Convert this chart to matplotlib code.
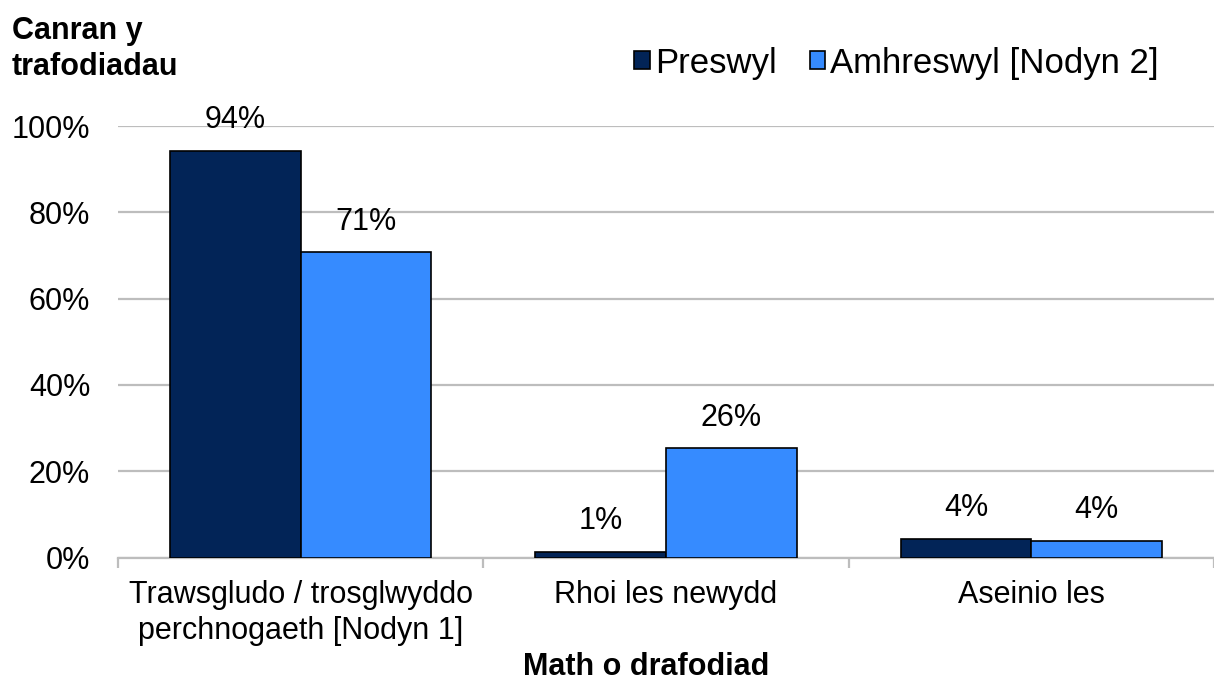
import matplotlib
matplotlib.use('Agg')
import matplotlib.pyplot as plt
import numpy as np

plt.rcParams['font.family'] = ['Liberation Sans', 'DejaVu Sans']

categories = ['Trawsgludo / trosglwyddo\nperchnogaeth [Nodyn 1]', 'Rhoi les newydd', 'Aseinio les']
series_names = ['Preswyl', 'Amhreswyl [Nodyn 2]']
preswyl = [94.3, 1.3, 4.4]
amhreswyl = [70.7, 25.3, 3.9]
preswyl_labels = ['94%', '1%', '4%']
amhreswyl_labels = ['71%', '26%', '4%']
yticks = [0, 20, 40, 60, 80, 100]
ytick_labels = ['0%', '20%', '40%', '60%', '80%', '100%']

dark = '#022457'
light = '#368BFF'
grid_col = '#bdbdbd'
fs = 22

fig = plt.figure(figsize=(12.14, 6.83), dpi=100)
ax = fig.add_axes([118/1214, 1-557.5/683, (1214-118)/1214, (557.5-126)/683])

x = np.arange(len(categories))
w = 0.358
b1 = ax.bar(x - w/2, preswyl, w, color=dark, edgecolor='black', linewidth=1.2, label=series_names[0], zorder=3)
b2 = ax.bar(x + w/2, amhreswyl, w, color=light, edgecolor='black', linewidth=1.2, label=series_names[1], zorder=3)

for bars, labs in [(b1, preswyl_labels), (b2, amhreswyl_labels)]:
    for r, lab in zip(bars, labs):
        ax.annotate(lab, (r.get_x() + r.get_width()/2, r.get_height()),
                    xytext=(0, 22), textcoords='offset points',
                    ha='center', va='center', fontsize=fs, annotation_clip=False)

# category width in the reference is about 370 px, the plot runs past the right edge
ax.set_xlim(-0.5, -0.5 + (1214-118)/370)
ax.set_ylim(0, 100)
ax.set_yticks(yticks)
ax.set_yticklabels(ytick_labels)
ax.yaxis.grid(True, color=grid_col, linewidth=1.6, zorder=0)
ax.set_axisbelow(True)
ax.tick_params(axis='y', length=0, pad=20, labelsize=fs)

ax.set_xticks(x)
ax.set_xticklabels(categories, linespacing=1.28)
ax.set_xticks([-0.5, 0.5, 1.5, 2.5], minor=True)
ax.tick_params(axis='x', which='major', length=0, pad=16, labelsize=fs)
ax.tick_params(axis='x', which='minor', length=7, width=1.6, color=grid_col)

for s in ['top', 'right', 'left']:
    ax.spines[s].set_visible(False)
ax.spines['bottom'].set_color(grid_col)
ax.spines['bottom'].set_linewidth(1.6)

fig.text(12/1214, 1-16/683, 'Canran y\ntrafodiadau', fontsize=fs, fontweight='bold',
         ha='left', va='top', linespacing=1.25)
fig.text(646/1214, 1-667/683, 'Math o drafodiad', fontsize=fs, fontweight='bold',
         ha='center', va='center')

fig.legend(loc='center left', bbox_to_anchor=(634/1214, 1-63/683), ncol=2, frameon=False,
           fontsize=25, handlelength=0.45, handleheight=0.45, handletextpad=0.15,
           columnspacing=0.95, borderaxespad=0, borderpad=0)

fig.savefig('out.png', dpi=100)
